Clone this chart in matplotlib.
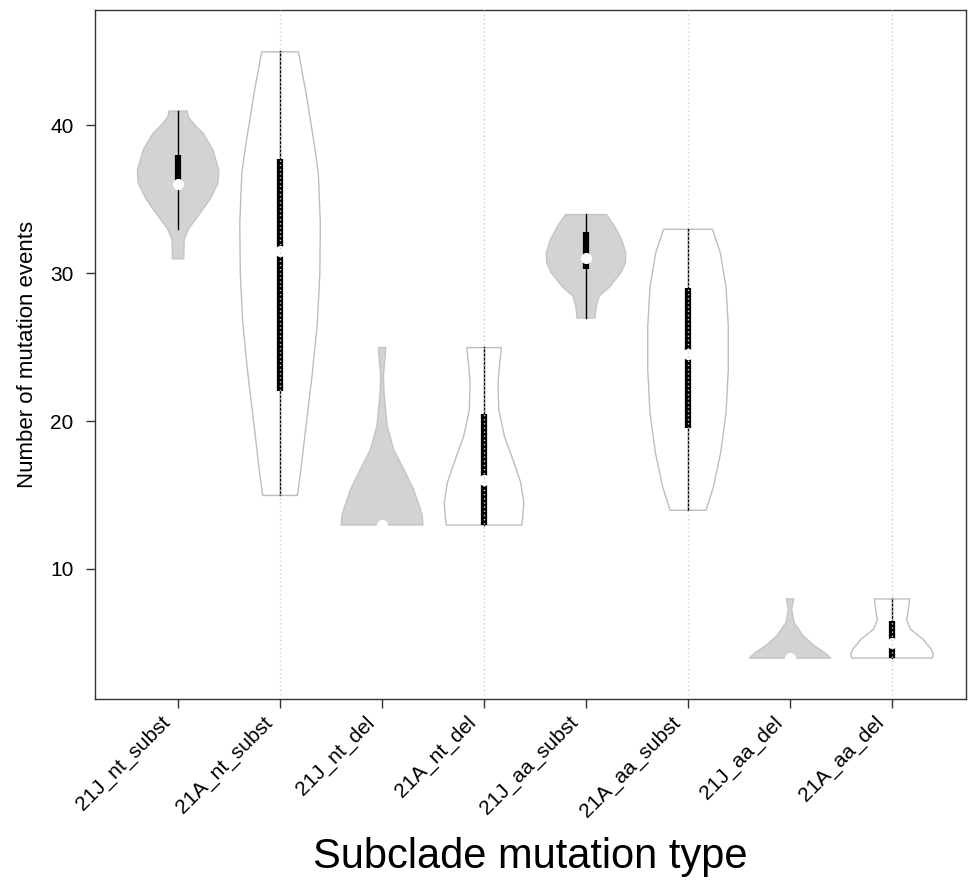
# -*- coding: utf-8 -*-
"""Violin plot of mutation events per subclade
"""
import matplotlib.pyplot as plt
import matplotlib.transforms as mtransforms
import numpy as np

plt.rcParams['font.family'] = ['Liberation Sans', 'DejaVu Sans']

labels = ['21J_nt_subst', '21A_nt_subst', '21J_nt_del', '21A_nt_del',
          '21J_aa_subst', '21A_aa_subst', '21J_aa_del', '21A_aa_del']

# violin outlines: value levels and half widths
v1_vals = [31.0, 32.3, 33.0, 33.9, 35.0, 36.1, 37.0, 38.4, 39.5, 40.0, 40.6, 41.0]
v1_half = [0.055, 0.06, 0.10, 0.196, 0.31, 0.39, 0.40, 0.34, 0.245, 0.17, 0.10, 0.088]
v2_vals = [15.0, 16.5, 19.9, 23.3, 26.7, 30.0, 33.4, 36.8, 39.0, 42.4, 45.0]
v2_half = [0.17, 0.20, 0.258, 0.317, 0.366, 0.39, 0.395, 0.375, 0.33, 0.25, 0.18]
v3_vals = [13.0, 13.6, 14.05, 15.4, 16.8, 18.1, 19.7, 21.9, 23.06, 24.4, 25.0]
v3_half = [0.40, 0.395, 0.376, 0.31, 0.21, 0.114, 0.05, 0.02, 0.013, 0.03, 0.036]
v4_vals = [13.0, 13.6, 14.5, 15.86, 17.4, 19.0, 20.8, 22.6, 24.0, 25.0]
v4_half = [0.37, 0.38, 0.39, 0.36, 0.284, 0.2, 0.144, 0.137, 0.154, 0.17]
v5_vals = [27.0, 27.8, 28.5, 29.1, 30.05, 30.7, 31.4, 32.3, 33.2, 34.0]
v5_half = [0.088, 0.10, 0.13, 0.23, 0.34, 0.385, 0.39, 0.35, 0.28, 0.20]
v6_vals = [14.0, 15.6, 17.9, 20.6, 23.5, 26.4, 29.1, 31.4, 33.0]
v6_half = [0.176, 0.25, 0.32, 0.373, 0.395, 0.395, 0.373, 0.317, 0.24]
v7_vals = [4.0, 4.37, 4.8, 5.5, 6.4, 7.3, 8.0]
v7_half = [0.40, 0.34, 0.245, 0.13, 0.04, 0.016, 0.037]
v8_vals = [4.0, 4.26, 4.6, 5.3, 5.95, 6.6, 7.3, 8.0]
v8_half = [0.395, 0.405, 0.385, 0.3, 0.18, 0.144, 0.16, 0.173]

# box stats: lower whisker, q1, median, q3, upper whisker
whisk_lo = [33, 15, 13, 13, 27, 14, 4, 4]
q1 = [36, 22, 13, 13, 30.25, 19.5, 4, 4]
medians = [36, 31.5, 13, 16, 31, 24.5, 4, 5]
q3 = [38, 37.75, 13, 20.5, 32.75, 29, 4, 6.5]
whisk_hi = [41, 45, 13, 25, 34, 33, 4, 8]

profiles = [(v1_vals, v1_half), (v2_vals, v2_half), (v3_vals, v3_half),
            (v4_vals, v4_half), (v5_vals, v5_half), (v6_vals, v6_half),
            (v7_vals, v7_half), (v8_vals, v8_half)]

fig = plt.figure(figsize=(9.77, 8.82), dpi=100)
ax = fig.add_axes([0.0972, 0.2075, 0.8915, 0.7812])

for i, (vals, half) in enumerate(profiles):
    pos = i + 1
    vals, half = np.array(vals), np.array(half)
    grey = i % 2 == 0
    ax.fill_betweenx(vals, pos - half, pos + half,
                     facecolor='#d3d3d3' if grey else 'white',
                     edgecolor='#c4c4c4' if grey else '#bdbdbd',
                     lw=1.0, zorder=2)
    ax.plot([pos, pos], [whisk_lo[i], whisk_hi[i]], color='black', lw=1.0,
            zorder=3)
    if q3[i] > q1[i]:
        ax.plot([pos, pos], [q1[i], q3[i]], color='black', lw=4.5,
                solid_capstyle='butt', zorder=4)
    ax.plot(pos, medians[i], 'o', color='white', ms=7, mec='white', zorder=5)
    if not grey:
        ax.axvline(pos, color='#cfcfcf', lw=1.0, ls=(0, (1, 2)), zorder=6)

ax.set_xlim(0.19, 8.73)
ax.set_ylim(1.2, 47.8)
ax.set_yticks([10, 20, 30, 40])
ax.set_xticks(np.arange(1, 9))
ax.set_xticklabels(labels, rotation=45, ha='right', rotation_mode='anchor')
ax.tick_params(labelsize=15, length=6.5, width=1.0, color='#333333')
ax.tick_params(axis='y', pad=9)
shift = mtransforms.ScaledTranslation(-0.17, 0.0, fig.dpi_scale_trans)
for lab in ax.get_xticklabels():
    lab.set_transform(lab.get_transform() + shift)
for sp in ax.spines.values():
    sp.set_color('#333333')
    sp.set_linewidth(1.0)

ax.set_ylabel('Number of mutation events', fontsize=16, labelpad=9)
fig.text(0.5425, 1 - 868 / 882, 'Subclade mutation type', fontsize=30,
         ha='center', va='baseline')

fig.savefig('out.png', dpi=100)
